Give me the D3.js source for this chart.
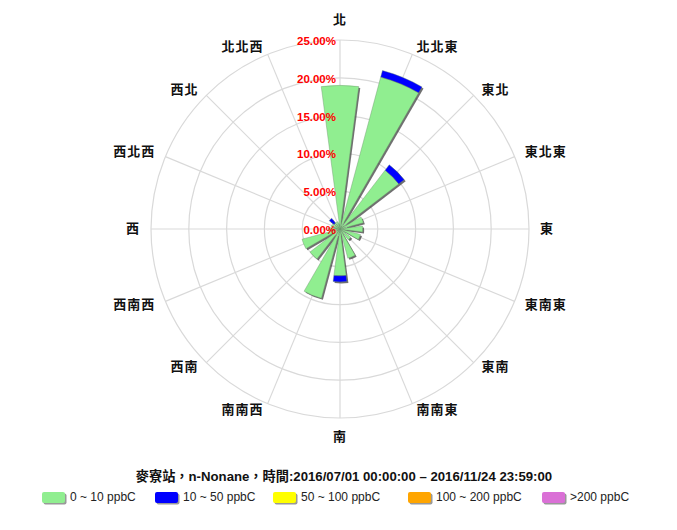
<!DOCTYPE html>
<html>
<head>
<meta charset="utf-8">
<script src="https://cdn.jsdelivr.net/npm/d3@7"></script>
<style>
  html, body { margin: 0; padding: 0; background: #fff; }
  svg { display: block; }
</style>
</head>
<body>
<svg id="chart" width="677" height="530"></svg>
<script>
// ---- data ----
const directions = ["北","北北東","東北","東北東","東","東南東","東南","南南東","南","南南西","西南","西南西","西","西北西","西北","北北西"];
const seriesNames = ["0 ~ 10 ppbC","10 ~ 50 ppbC","50 ~ 100 ppbC","100 ~ 200 ppbC",">200 ppbC"];
const s0to10   = [19.0, 20.8, 9.8, 3.2, 3.0, 2.8, 1.8, 4.0, 6.2, 9.5, 5.0, 5.2, 1.5, 1.2, 1.0, 1.0];
const s10to50  = [0, 0.9, 0.9, 0, 0, 0, 0, 0, 0.8, 0, 0, 0, 0, 0, 0.8, 0];
const s50to100 = [0,0,0,0,0,0,0,0,0,0,0,0,0,0,0,0];
const s100to200= [0,0,0,0,0,0,0,0,0,0,0,0,0,0,0,0];
const sOver200 = [0,0,0,0,0,0,0,0,0,0,0,0,0,0,0,0];
const radialTicks = [0, 5, 10, 15, 20, 25];
const titleText = "麥寮站，n-Nonane，時間:2016/07/01 00:00:00 – 2016/11/24 23:59:00";

const seriesValues = [s0to10, s10to50, s50to100, s100to200, sOver200];
const colors = ["#90ee90", "#0000ff", "#ffff00", "#ffa500", "#da70d6"];

// ---- layout ----
const svg = d3.select("#chart");
const cx = 340, cy = 229, R = 189;
const r = d3.scaleLinear().domain([0, 25]).range([0, R]);
const step = 2 * Math.PI / directions.length;
const halfW = (15 / 360) * Math.PI; // 15 degree wedge

const g = svg.append("g").attr("transform", `translate(${cx},${cy})`);

// grid circles
g.selectAll("circle.grid").data(radialTicks.filter(d => d > 0)).enter()
  .append("circle").attr("r", d => r(d))
  .attr("fill", "none").attr("stroke", "#d9d9d9").attr("stroke-width", 1.2);

// spokes
g.selectAll("line.spoke").data(directions).enter()
  .append("line")
  .attr("x1", 0).attr("y1", 0)
  .attr("x2", (d, i) => R * Math.sin(i * step))
  .attr("y2", (d, i) => -R * Math.cos(i * step))
  .attr("stroke", "#d9d9d9").attr("stroke-width", 1.2);

// stacked data
const stacked = directions.map((d, i) => {
  let acc = 0;
  return seriesValues.map((s, k) => {
    const o = { dir: i, k, y0: acc, y1: acc + s[i] };
    acc += s[i];
    return o;
  }).filter(o => o.y1 > o.y0);
});
const segs = stacked.flat();
const arc = d3.arc()
  .innerRadius(d => r(d.y0))
  .outerRadius(d => r(d.y1))
  .startAngle(d => d.dir * step - halfW)
  .endAngle(d => d.dir * step + halfW);

// shadow of whole bar
const totals = directions.map((d, i) => ({ dir: i, y0: 0, y1: d3.sum(seriesValues, s => s[i]) }));
g.append("g").attr("transform", "translate(1.5,1.5)")
  .selectAll("path").data(totals).enter().append("path")
  .attr("d", arc).attr("fill", "#333").attr("opacity", 0.7);

g.append("g").selectAll("path").data(segs).enter().append("path")
  .attr("d", arc)
  .attr("fill", d => colors[d.k])
  .attr("stroke", "#6a8f6a").attr("stroke-width", 0.4);

// radial tick labels
g.selectAll("text.rtick").data(radialTicks).enter().append("text")
  .attr("x", -4).attr("y", d => -r(d) + 2)
  .attr("text-anchor", "end").attr("dominant-baseline", "middle")
  .attr("font-family", "Liberation Sans, Arial, sans-serif")
  .attr("font-weight", "bold").attr("font-size", "11.5px")
  .attr("fill", "#ff0000")
  .text(d => d3.format(".2f")(d) + "%");

// direction labels
const labR = 200;
g.selectAll("text.dir").data(directions).enter().append("text")
  .each(function(d, i) {
    const a = i * step;
    const s = Math.sin(a), c = Math.cos(a);
    let x, y, anchor;
    if (Math.abs(s) < 0.01) {
      x = 0; anchor = "middle";
      y = c > 0 ? -(labR + 9) : (labR + 8);
    } else {
      x = labR * s; y = -labR * c + (c > 0.5 ? 3 : (c < -0.5 ? -3 : 0));
      anchor = s > 0 ? "start" : "end";
    }
    d3.select(this).attr("x", x).attr("y", y).attr("text-anchor", anchor);
  })
  .attr("dominant-baseline", "middle")
  .attr("font-family", "Noto Sans CJK TC, sans-serif")
  .attr("font-weight", "bold").attr("font-size", "13px")
  .attr("letter-spacing", "1px")
  .attr("fill", "#111")
  .text(d => d);

// title
svg.append("text")
  .attr("x", 344).attr("y", 478)
  .attr("text-anchor", "middle").attr("dominant-baseline", "middle")
  .attr("font-family", "Liberation Sans, Noto Sans CJK TC, sans-serif")
  .attr("font-weight", "bold").attr("font-size", "13.2px")
  .attr("fill", "#111")
  .text(titleText);

// legend
const legendX = [42, 155, 273, 408, 542];
const leg = svg.append("g").attr("transform", "translate(0,498)");
seriesNames.forEach((name, k) => {
  const item = leg.append("g").attr("transform", `translate(${legendX[k]},0)`);
  item.append("rect").attr("x", 1.5).attr("y", -4.5).attr("width", 23).attr("height", 11)
    .attr("rx", 2).attr("fill", "#555").attr("opacity", 0.6);
  item.append("rect").attr("x", 0).attr("y", -6).attr("width", 23).attr("height", 11)
    .attr("rx", 2).attr("fill", colors[k]);
  item.append("text").attr("x", 28).attr("y", 0)
    .attr("dominant-baseline", "middle")
    .attr("font-family", "Liberation Sans, Arial, sans-serif")
    .attr("font-size", "12px").attr("fill", "#222")
    .text(name);
});
</script>
</body>
</html>
